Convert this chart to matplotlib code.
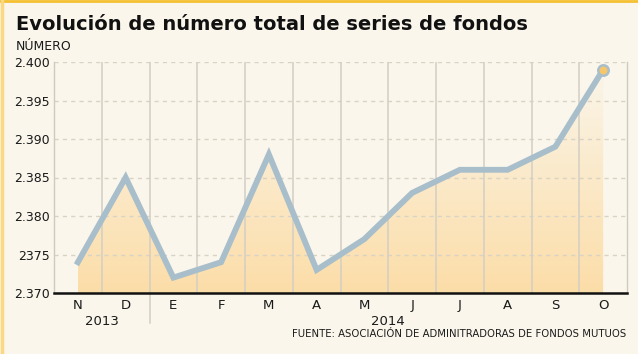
import matplotlib
matplotlib.use("Agg")
import matplotlib.pyplot as plt
import numpy as np
from matplotlib.colors import LinearSegmentedColormap
from matplotlib.lines import Line2D

months = ["N", "D", "E", "F", "M", "A", "M", "J", "J", "A", "S", "O"]
values = [2374, 2385, 2372, 2374, 2388, 2373, 2377, 2383, 2386, 2386, 2389, 2399]
yticks = [2370, 2375, 2380, 2385, 2390, 2395, 2400]
ytick_labels = ["2.370", "2375", "2.380", "2.385", "2.390", "2.395", "2.400"]
years = ["2013", "2014"]
year_spans = [(0, 1), (2, 11)]

BG = "#FAF6EB"
LINE = "#A8BECB"
GRID = "#D9D3C6"
VGRID = "#D3CEC3"

plt.rcParams['font.family'] = ['DejaVu Sans']
fig = plt.figure(figsize=(6.38, 3.54), dpi=100)
fig.patch.set_facecolor(BG)

ax = fig.add_axes([54/638, 1-293/354, (627-54)/638, (293-62)/354])
ax.set_facecolor(BG)
x = np.arange(len(months))
ax.set_xlim(-0.5, len(months)-0.5)
ax.set_ylim(yticks[0], yticks[-1])

# gradient fill under the line
cmap = LinearSegmentedColormap.from_list("g", ["#FCDDA8", BG])
grad = np.linspace(0, 1, 256).reshape(-1, 1)
im = ax.imshow(grad, cmap=cmap, aspect="auto", origin="lower",
               extent=[x[0], x[-1], yticks[0], yticks[-1]], zorder=1)
poly = ax.fill_between(x, values, yticks[0], color="none", zorder=1)
clip = poly.get_paths()[0]
im.set_clip_path(clip, transform=ax.transData)

# horizontal dashed grid
for yt in yticks[1:]:
    ax.axhline(yt, color=GRID, lw=1, ls=(0, (3, 3)), zorder=2)
# vertical separators
for i in range(len(months)-1):
    ax.axvline(i+0.5, color=VGRID, lw=1.1, zorder=2)

ax.plot(x, values, color=LINE, lw=4.2, solid_joinstyle="miter", zorder=3)
ax.plot([x[-1]], [values[-1]], "o", ms=7.5, mfc="#F8C66A", mec=LINE, mew=1.8, zorder=4)

ax.spines["top"].set_visible(False)
for s in ["left", "right"]:
    ax.spines[s].set_color("#CFCAC0")
    ax.spines[s].set_linewidth(1)
ax.spines["bottom"].set_color("#111111")
ax.spines["bottom"].set_linewidth(1.8)

ax.set_xticks(x)
ax.set_xticklabels(months, fontsize=9.5, color="#1a1a1a")
ax.set_yticks(yticks)
ax.set_yticklabels(ytick_labels, fontsize=9, color="#1a1a1a")
ax.tick_params(length=0, pad=3)
ax.tick_params(axis="x", pad=4)

# year separator line below axis
ax.plot([1.5, 1.5], [0, -0.13], transform=ax.get_xaxis_transform(),
        color=VGRID, lw=1.1, clip_on=False)
for yr, (a, b) in zip(years, year_spans):
    ax.text((a+b)/2, -0.125, yr, transform=ax.get_xaxis_transform(),
            ha="center", va="center", fontsize=9.5, color="#1a1a1a")

fig.text(16/638, 1-24/354, "Evolución de número total de series de fondos",
         fontsize=14, fontweight="bold", ha="left", va="center", color="#111111")
fig.text(16/638, 1-46/354, "NÚMERO", fontsize=9, ha="left", va="center", color="#1a1a1a")
fig.text(626/638, 1-334/354, "FUENTE: ASOCIACIÓN DE ADMINITRADORAS DE FONDOS MUTUOS",
         fontsize=7.3, ha="right", va="center", color="#1a1a1a")

# frame accents
fig.add_artist(Line2D([0, 1], [1-1/354, 1-1/354], transform=fig.transFigure, color="#F5C132", lw=2))
fig.add_artist(Line2D([1.5/638, 1.5/638], [0, 1], transform=fig.transFigure, color="#FCD882", lw=2.5))

fig.savefig("out.png", dpi=100, facecolor=BG)
